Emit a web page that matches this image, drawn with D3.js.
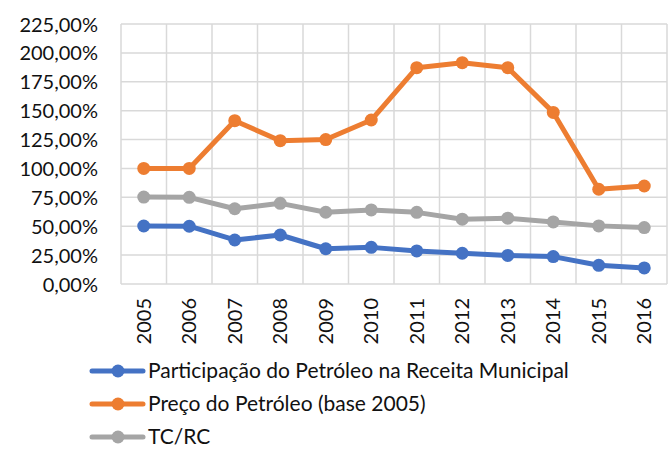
<!DOCTYPE html>
<html>
<head>
<meta charset="utf-8">
<script src="https://cdn.jsdelivr.net/npm/d3@7"></script>
<style>
  body { margin: 0; background: #fff; }
  svg text { font-family: Lato, "Open Sans", sans-serif; fill: #111; }
</style>
</head>
<body>
<svg id="chart" width="671" height="449"></svg>
<script>
// data
const years = ["2005","2006","2007","2008","2009","2010","2011","2012","2013","2014","2015","2016"]
const participacao = [0.502, 0.500, 0.381, 0.424, 0.305, 0.317, 0.286, 0.266, 0.247, 0.237, 0.162, 0.139]
const preco = [1.00, 1.00, 1.413, 1.24, 1.25, 1.419, 1.872, 1.915, 1.872, 1.485, 0.82, 0.848]
const tcrc = [0.752, 0.750, 0.651, 0.698, 0.621, 0.641, 0.620, 0.561, 0.570, 0.537, 0.503, 0.488]
const yTicks = [0, 0.25, 0.5, 0.75, 1, 1.25, 1.5, 1.75, 2, 2.25]

const series = [
  {name: "Participação do Petróleo na Receita Municipal", values: participacao, color: "#4472C4"},
  {name: "Preço do Petróleo (base 2005)", values: preco, color: "#ED7D31"},
  {name: "TC/RC", values: tcrc, color: "#A5A5A5"}
]

const svg = d3.select("#chart")

// plot area
const plotLeft = 121, plotRight = 667, plotTop = 24, plotBottom = 284

const x = d3.scaleBand().domain(years).range([plotLeft, plotRight])
const y = d3.scaleLinear().domain([0, 2.25]).range([plotBottom, plotTop])

const pct = d => d3.format(".2f")(d * 100).replace(".", ",") + "%"

// horizontal grid
svg.selectAll(".hgrid")
  .data(yTicks)
  .join("line")
  .attr("class", "hgrid")
  .attr("x1", plotLeft).attr("x2", plotRight)
  .attr("y1", d => y(d)).attr("y2", d => y(d))
  .attr("stroke", "#d9d9d9")
  .attr("stroke-width", 1.5)

// vertical grid at category edges
const edges = years.map(d => x(d)).concat([plotRight])
svg.selectAll(".vgrid")
  .data(edges)
  .join("line")
  .attr("class", "vgrid")
  .attr("x1", d => d).attr("x2", d => d)
  .attr("y1", plotTop).attr("y2", plotBottom)
  .attr("stroke", "#d9d9d9")
  .attr("stroke-width", 1.5)

// y axis labels
const yAxis = svg.append("g")
  .attr("transform", `translate(${plotLeft},0)`)
  .call(d3.axisLeft(y).tickValues(yTicks).tickFormat(pct).tickSize(0).tickPadding(23))
yAxis.select(".domain").remove()
yAxis.selectAll("text")
  .style("font-size", "20px")
  .attr("dy", "0.35em")

// x axis labels, rotated
const xAxis = svg.append("g")
  .attr("transform", `translate(0,${plotBottom})`)
  .call(d3.axisBottom(x).tickSize(0))
xAxis.select(".domain").remove()
xAxis.selectAll("text")
  .style("font-size", "20px")
  .attr("text-anchor", "end")
  .attr("transform", "rotate(-90)")
  .attr("x", -14)
  .attr("y", 0)
  .attr("dy", "0.35em")

// lines and markers
const line = d3.line()
  .x((d, i) => x(years[i]) + x.bandwidth() / 2)
  .y(d => y(d))

series.forEach(s => {
  svg.append("path")
    .datum(s.values)
    .attr("d", line)
    .attr("fill", "none")
    .attr("stroke", s.color)
    .attr("stroke-width", 5)
    .attr("stroke-linejoin", "round")
    .attr("stroke-linecap", "round")

  svg.selectAll(null)
    .data(s.values)
    .join("circle")
    .attr("cx", (d, i) => x(years[i]) + x.bandwidth() / 2)
    .attr("cy", d => y(d))
    .attr("r", 6.5)
    .attr("fill", s.color)
})

// legend
const legend = svg.selectAll(".legend")
  .data(series)
  .join("g")
  .attr("class", "legend")
  .attr("transform", (d, i) => `translate(92,${371 + i * 33})`)

legend.append("line")
  .attr("x1", 0).attr("x2", 51)
  .attr("stroke", d => d.color)
  .attr("stroke-width", 5)
  .attr("stroke-linecap", "round")
legend.append("circle")
  .attr("cx", 26)
  .attr("r", 6.5)
  .attr("fill", d => d.color)
legend.append("text")
  .attr("x", 56)
  .attr("dy", "0.35em")
  .style("font-size", "21px")
  .text(d => d.name)
</script>
</body>
</html>
